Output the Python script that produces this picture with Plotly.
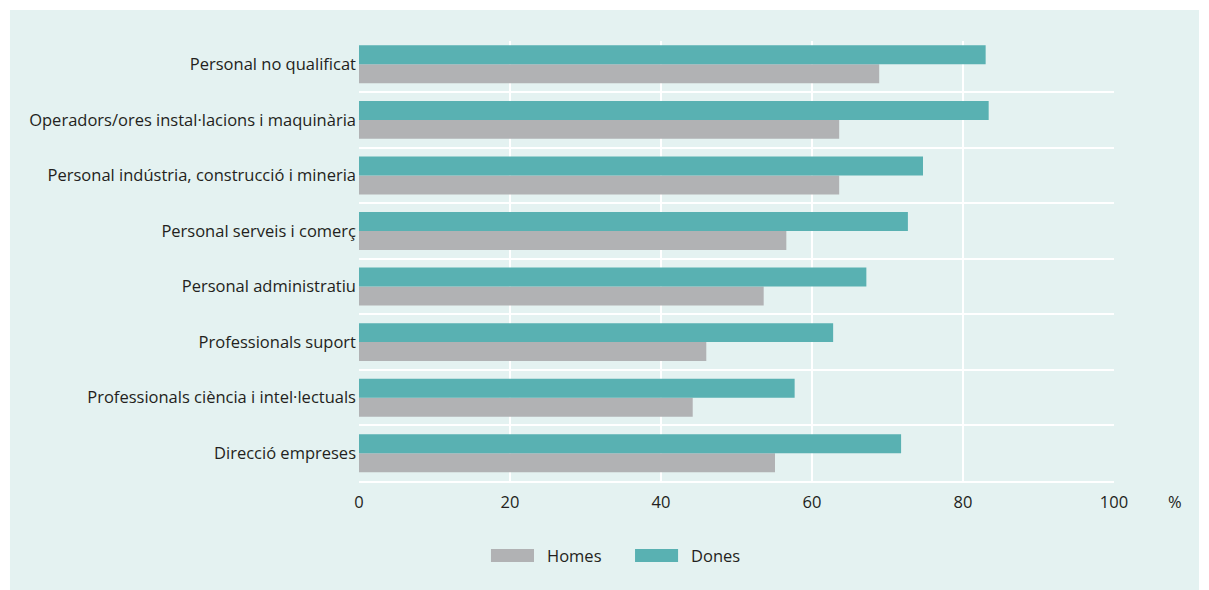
import plotly.graph_objects as go

categories = [
    "Personal no qualificat",
    "Operadors/ores instal·lacions i maquinària",
    "Personal indústria, construcció i mineria",
    "Personal serveis i comerç",
    "Personal administratiu",
    "Professionals suport",
    "Professionals ciència i intel·lectuals",
    "Direcció empreses",
]
homes = [68.9, 63.6, 63.6, 56.6, 53.6, 46.0, 44.2, 55.1]
dones = [83.0, 83.4, 74.7, 72.7, 67.2, 62.8, 57.7, 71.8]
x_ticks = [0, 20, 40, 60, 80, 100]
series_names = ["Homes", "Dones"]

GREY = "#b1b2b4"
TEAL = "#59b1b2"
PANEL = "#e4f2f1"
TEXT = "#231f20"
FONT = "Open Sans"

# bottom-to-top order so the first trace (Homes) sits below Dones
cats_b = categories[::-1]
homes_b = homes[::-1]
dones_b = dones[::-1]

fig = go.Figure()
fig.add_trace(go.Bar(y=cats_b, x=homes_b, orientation="h", name=series_names[0],
                     marker=dict(color=GREY, line=dict(width=0)), showlegend=False))
fig.add_trace(go.Bar(y=cats_b, x=dones_b, orientation="h", name=series_names[1],
                     marker=dict(color=TEAL, line=dict(width=0)), showlegend=False))

# custom legend with wide rectangular swatches
legend_shapes = []
legend_ann = []
for name, col, x0 in [(series_names[0], GREY, 0.1748), (series_names[1], TEAL, 0.3656)]:
    legend_shapes.append(dict(type="rect", xref="paper", yref="paper",
                              x0=x0, x1=x0 + 0.057, y0=-0.1841, y1=-0.1545,
                              fillcolor=col, line=dict(width=0)))
    legend_ann.append(dict(text=name, xref="paper", yref="paper", x=x0 + 0.0716,
                           y=-0.1693, xanchor="left", yanchor="middle", showarrow=False,
                           font=dict(size=16.5, color=TEXT, family=FONT)))

fig.update_layout(
    width=1201, height=582,
    margin=dict(l=351, r=95, t=33, b=109),
    paper_bgcolor="white",
    plot_bgcolor=PANEL,
    barmode="group",
    bargap=0.317,
    bargroupgap=0,
    font=dict(family=FONT, size=16.5, color=TEXT),
    shapes=[dict(type="rect", xref="paper", yref="paper", x0=-0.4623, x1=1.1126,
                 y0=-0.30, y1=1.0705, fillcolor=PANEL, line=dict(width=0), layer="below")]
           + legend_shapes,
    annotations=[dict(text="%", xref="paper", yref="paper", x=1.0808, y=-0.047,
                      xanchor="center", yanchor="middle", showarrow=False,
                      font=dict(size=16.5, color=TEXT, family=FONT))] + legend_ann,
)
fig.update_xaxes(range=[0, 100], tickvals=x_ticks, showgrid=True, gridcolor="white",
                 gridwidth=2, zeroline=False, showline=True, linecolor="white",
                 linewidth=2, ticks="", ticklabelstandoff=5)
fig.update_yaxes(type="category", range=[-0.5, 7.42], tickson="boundaries",
                 showgrid=True, gridcolor="white", gridwidth=2, showline=False,
                 ticks="", ticklabelstandoff=2)

fig.write_html("out.html")
